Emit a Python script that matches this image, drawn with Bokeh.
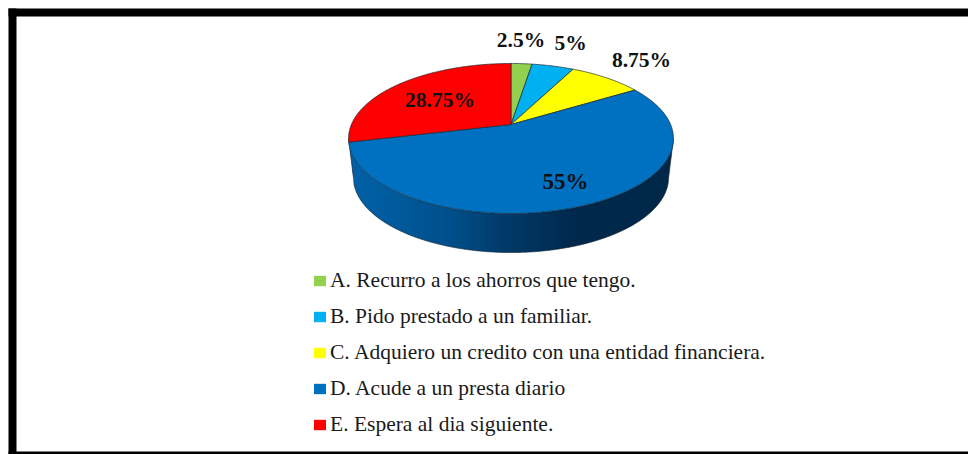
from bokeh.plotting import figure
from bokeh.models import Range1d, BoxAnnotation, Legend, LegendItem
from bokeh.embed import file_html
from bokeh.resources import INLINE
from bokeh.core.properties import value
import numpy as np

# ---- data ----
categories = ["A. Recurro a los ahorros que tengo.",
              "B. Pido prestado a un familiar.",
              "C. Adquiero un credito con una entidad financiera.",
              "D. Acude a un presta diario",
              "E. Espera al dia siguiente."]
values = [2.5, 5, 8.75, 55, 28.75]
labels = ["2.5%", "5%", "8.75%", "55%", "28.75%"]
colors = ["#92D050", "#00B0F0", "#FFFF00", "#0070C0", "#FF0000"]
label_x = [520.5, 570, 641, 565, 439.5]
label_y = [39, 42, 59, 180.5, 99]
label_sizes = ["21.5px", "21.5px", "21.5px", "23px", "21.5px"]

# ---- pie geometry: a circle seen in perspective ----
CX, CY = 510.5, 124.0
A, B, K = 159.6, 72.4, 0.1867
DEPTH = 39.0
TAPER = 0.97


def project(deg):
    t = np.radians(deg)
    x, y = np.sin(t), np.cos(t)
    d = 1 + K * y
    return CX + A * x / d, CY - B * y / d


p = figure(width=968, height=454, output_backend="svg", toolbar_location=None,
           x_range=Range1d(0, 968), y_range=Range1d(454, 0),
           min_border=0, outline_line_color=None, background_fill_color="white",
           border_fill_color="white")
p.axis.visible = False
p.grid.visible = False

# side wall, narrow vertical strips imitate the gradient; the lower rim tapers
tip = np.degrees(np.arcsin(K))
rim = np.linspace(90 + tip, 270 - tip, 721)
tx, ty = project(rim)
tx, ty = tx[::-1], ty[::-1]          # left to right
bx = CX + TAPER * (tx - CX)
by = ty + DEPTH
bx = np.concatenate([[tx[0]], bx, [tx[-1]]])
by = np.concatenate([[ty[0]], by, [ty[-1]]])
edges = np.arange(tx[0], tx[-1] + 2, 2.0)
stops_x = [348, 400, 450, 500, 570, 673]
stops_c = [(0, 98, 168), (0, 90, 155), (0, 80, 138), (0, 60, 108), (0, 42, 78), (0, 40, 72)]
xs, ys, cs = [], [], []
for a, b in zip(edges[:-1], edges[1:]):
    seg = np.linspace(a, min(b + 0.6, tx[-1]), 4)
    up = np.interp(seg, tx, ty)
    lo = np.interp(seg, bx, by)
    xs.append(list(seg) + list(seg[::-1]))
    ys.append(list(up) + list(lo[::-1]))
    m = (a + b) / 2
    c = [int(np.interp(m, stops_x, [s[i] for s in stops_c])) for i in range(3)]
    cs.append("#%02x%02x%02x" % tuple(c))
p.patches(xs, ys, fill_color=cs, line_color=None)

# wall outline
p.line(bx, by, line_color="#22303c", line_width=0.7)

# top face
cum = np.concatenate([[0], np.cumsum(values)]) * 3.6
items = []
for i, (s, e) in enumerate(zip(cum[:-1], cum[1:])):
    th = np.linspace(s, e, max(int(e - s) * 2, 8))
    px, py = project(th)
    fx, fy = [CX] + list(px), [CY] + list(py)
    r = p.patch(fx, fy, fill_color=colors[i], line_color=None)
    items.append(LegendItem(label=categories[i], renderers=[r]))
    p.line(fx + [CX], fy + [CY], line_color="#1c2a33", line_width=0.7)

# data labels
p.text(label_x, label_y, text=labels, text_font=value("Liberation Serif"),
       text_font_style="bold", text_font_size=label_sizes, text_color="#111111",
       text_align="center", text_baseline="middle")

legend = Legend(items=items, location=(312, 17), orientation="vertical",
                background_fill_alpha=0, border_line_color=None,
                glyph_width=15, glyph_height=13, label_standoff=3,
                label_text_font="Liberation Serif", label_text_font_size="21.5px",
                label_text_color="#1a1a1a", label_height=24, spacing=11,
                margin=0, padding=0)
p.add_layout(legend, "center")

# frame
p.add_layout(BoxAnnotation(left=8, right=968, top=8, bottom=16, fill_color="black", fill_alpha=1, line_color=None))
p.add_layout(BoxAnnotation(left=8, right=16, top=8, bottom=454, fill_color="black", fill_alpha=1, line_color=None))
p.add_layout(BoxAnnotation(left=8, right=968, top=451, bottom=454, fill_color="black", fill_alpha=1, line_color=None))

open("out.html", "w").write(file_html(p, INLINE))
